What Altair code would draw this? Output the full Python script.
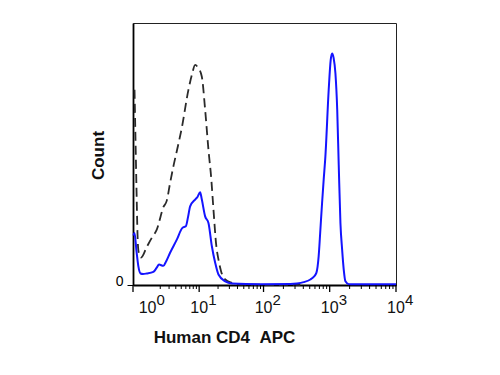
import altair as alt
import pandas as pd

# ---- data (x = APC intensity, y = relative count) ----
dashed_x = [0.346, 0.386, 0.428, 0.472, 0.517, 0.636, 0.951, 1.284, 1.679, 2.318, 2.710,
            3.137, 3.616, 4.222, 5.113, 6.640, 7.659, 8.590, 9.62, 11.05, 12.49, 14.11,
            15.58, 16.94, 18.69, 20.31, 22.39, 25.85, 32.84, 44.1, 360.7]
dashed_y = [74.5, 55.4, 36.4, 19.2, 12.8, 10.5, 14.5, 18.0, 21.1, 29.7, 32.2,
            38.9, 45.3, 51.6, 60.0, 74.5, 80.6, 84.0, 82.9, 79.5, 66.9, 51.6,
            41.0, 28.8, 15.4, 9.7, 5.1, 2.1, 0.8, 0.2, 0.0]

blue_x = [0.303, 0.346, 0.428, 0.508, 0.612, 0.740, 0.951, 1.403, 1.662, 1.886, 2.318,
          2.626, 3.137, 4.170, 5.238, 5.995, 6.561, 7.092, 8.590, 9.44, 10.37, 11.05,
          12.49, 14.11, 15.98, 18.02, 20.31, 25.85, 32.84, 89.2, 254.6, 321.7, 404.9,
          511.2, 573.5, 630.0, 682.5, 724.1, 768.2, 812.3, 861.8, 966.8, 1036.7, 1088.4,
          1146.7, 1220.9, 1299.8, 1369.4, 1453, 1541.4, 1629.6, 1729, 1938.9, 10000]
blue_y = [18.9, 19.8, 12.8, 7.2, 4.4, 4.2, 4.4, 5.0, 6.5, 7.8, 7.3,
          9.0, 12.3, 17.3, 21.8, 22.4, 26.1, 30.0, 32.6, 33.7, 35.4, 32.6,
          26.2, 23.7, 14.8, 8.5, 4.0, 1.4, 0.6, 0.3, 0.4, 0.6, 1.1,
          2.1, 3.1, 4.6, 11.0, 21.1, 31.3, 40.2, 49.1, 74.5, 85.9, 88.4,
          86.7, 80.8, 66.9, 45.9, 23.7, 13.5, 5.9, 1.4, 0.3, 0.3]

x_domain = [0.287, 10000]
y_domain = [0, 100]
label_vals = [1, 10, 100, 1000, 10000]
label_base = ["10", "10", "10", "10", "10"]
label_exp = ["0", "1", "2", "3", "4"]
major_ticks = [0.287, 10, 100, 1000, 10000]
minor_ticks = [m * 10 ** k for k in range(4) for m in range(2, 10)]

W, H = 263, 262
FONT = "Liberation Sans"

xscale = alt.Scale(type="symlog", constant=0.8, domain=x_domain, nice=False)
yscale = alt.Scale(domain=y_domain, nice=False)

df_dash = pd.DataFrame({"x": dashed_x, "count": dashed_y})
df_blue = pd.DataFrame({"x": blue_x, "count": blue_y})
df_lab = pd.DataFrame({"x": label_vals, "base": label_base, "exp": label_exp})
df_major = pd.DataFrame({"x": major_ticks})
df_minor = pd.DataFrame({"x": minor_ticks})

dashed = alt.Chart(df_dash).mark_line(
    color="#2a2a2a", strokeWidth=1.8, strokeDash=[9, 5], interpolate="monotone"
).encode(
    x=alt.X("x:Q", scale=xscale,
            axis=alt.Axis(labels=False, ticks=False, grid=False,
                          title="Human CD4\u00a0\u00a0APC",
                          titleFont=FONT, titleFontSize=17, titleFontWeight="bold",
                          titleColor="#111111", titleX=91, titleY=57, titleAlign="center",
                          titleBaseline="alphabetic")),
    y=alt.Y("count:Q", scale=yscale,
            axis=alt.Axis(values=[0], grid=False, tickSize=6, tickColor="black",
                          labelFont=FONT, labelFontSize=14, labelColor="black",
                          labelPadding=4, labelBaseline="alphabetic",
                          title="Count", titleFont=FONT, titleFontSize=17,
                          titleFontWeight="bold", titleColor="#111111",
                          titleX=-35, titleY=132, titleAlign="center",
                          titleBaseline="middle", titleAngle=270)),
)

blue = alt.Chart(df_blue).mark_line(
    color="#1414ff", strokeWidth=2, interpolate="monotone"
).encode(
    x=alt.X("x:Q", scale=xscale),
    y=alt.Y("count:Q", scale=yscale),
)

major = alt.Chart(df_major).mark_rule(color="black", strokeWidth=1.3).encode(
    x=alt.X("x:Q", scale=xscale), y=alt.value(H), y2=alt.value(H + 7)
)
minor = alt.Chart(df_minor).mark_rule(color="black", strokeWidth=1).encode(
    x=alt.X("x:Q", scale=xscale), y=alt.value(H), y2=alt.value(H + 4)
)

base_lab = alt.Chart(df_lab).mark_text(
    font=FONT, fontSize=16, color="#111111", align="center", baseline="alphabetic"
).encode(x=alt.X("x:Q", scale=xscale), y=alt.value(H + 28), text="base:N")

exp_lab = alt.Chart(df_lab).mark_text(
    font=FONT, fontSize=15, color="#111111", align="left", baseline="alphabetic", dx=9
).encode(x=alt.X("x:Q", scale=xscale), y=alt.value(H + 20), text="exp:N")

chart = alt.layer(dashed, blue, major, minor, base_lab, exp_lab).properties(
    width=W, height=H,
    padding={"left": 125, "top": 15, "right": 90, "bottom": 80},
    autosize=alt.AutoSizeParams(type="none"),
).configure_view(
    stroke="#222222", strokeWidth=1
).configure_axis(
    domainColor="black", domainWidth=1.8
)

chart.save("out.html", embed_options={"renderer": "svg", "actions": False})
